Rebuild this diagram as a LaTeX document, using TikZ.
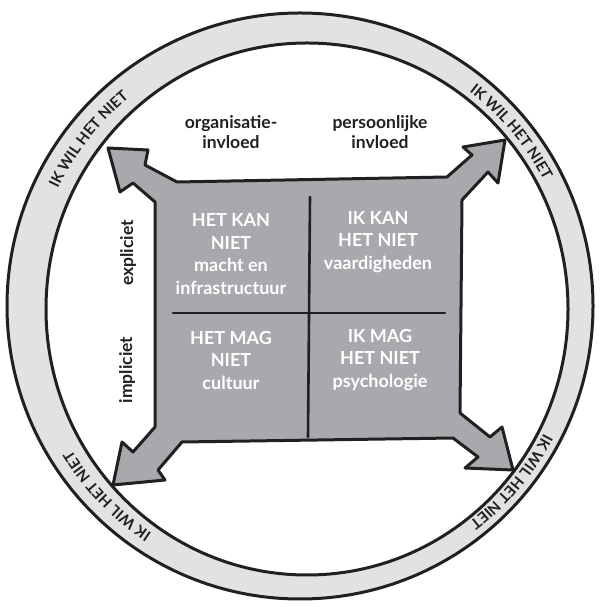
\documentclass[tikz,border=0pt]{standalone}
\usepackage{fontspec}
\setmainfont{Lato}
\usetikzlibrary{decorations.text}
\definecolor{ringfill}{HTML}{E1E2E4}
\definecolor{blockfill}{HTML}{A8A9AD}
\definecolor{inkdark}{HTML}{231F20}
\begin{document}
\begin{tikzpicture}[x=1pt,y=1pt,
  outline/.style={draw=inkdark, line width=3pt, line join=round},
  divider/.style={draw=inkdark, line width=2.6pt, line cap=round},
  celltext/.style={text=white, align=center, font=\fontsize{18}{22.5}\selectfont\bfseries},
  sidetext/.style={text=inkdark, align=center, font=\fontsize{17.5}{20}\selectfont\bfseries},
  ringlabel/.style={decorate, decoration={text along path, text align=center,
      text color=inkdark, text={|\fontsize{15}{16}\selectfont\bfseries|IK WIL HET NIET}}}
]
\useasboundingbox (0,0) rectangle (600,607);

% outer ring
\path[outline, fill=ringfill, even odd rule]
  (300,301) circle[radius=293]
  (307,298) ellipse[x radius=261, y radius=266];

% central block with four corner arrows
\path[outline, fill=blockfill]
  (155,180) -- (155,405)
  -- (133,424) -- (120,415) -- (108,459) -- (148,457) -- (145,442)
  -- (177,425) -- (447,430)
  -- (472,452) -- (463,460) -- (505,467) -- (498,424) -- (488,435)
  -- (462,407) -- (460,194)
  -- (490,170) -- (502,180) -- (513,137) -- (465,139) -- (478,150)
  -- (453,169) -- (182,165)
  -- (158,137) -- (165,127) -- (113,122) -- (122,165) -- (133,155)
  -- cycle;

% quadrant dividers
\coordinate (vtop) at (310,410);
\coordinate (vbot) at (308,170);
\coordinate (hleft) at (173,294);
\coordinate (hright) at (445,294);
\draw[divider] (vtop) -- (vbot);
\draw[divider] (hleft) -- (hright);

% quadrant texts
\node[celltext] (kan) at (231,353) {HET KAN\\NIET\\macht en\\infrastructuur};
\node[celltext] (ikkan) at (378,365) {IK KAN\\HET NIET\\vaardigheden};
\node[celltext] (mag) at (231,247) {HET MAG\\NIET\\cultuur};
\node[celltext] (ikmag) at (380,247) {IK MAG\\HET NIET\\psychologie};

% axis labels
\node[sidetext] (org) at (231,475) {organisatie-\\invloed};
\node[sidetext] (pers) at (380,475) {persoonlijke\\invloed};
\node[sidetext, rotate=90] (expl) at (128,354) {expliciet};
\node[sidetext, rotate=90] (impl) at (127,237) {impliciet};

% ring labels, running clockwise
\coordinate (rc) at (303,300);
\path[ringlabel] (rc) ++(172:272) arc[start angle=172, end angle=112, radius=272];
\path[ringlabel] (rc) ++(70:272) arc[start angle=70, end angle=10, radius=272];
\path[ringlabel] (rc) ++(254:272) arc[start angle=254, end angle=194, radius=272];
\path[ringlabel] (rc) ++(350:272) arc[start angle=350, end angle=290, radius=272];
\end{tikzpicture}
\end{document}
